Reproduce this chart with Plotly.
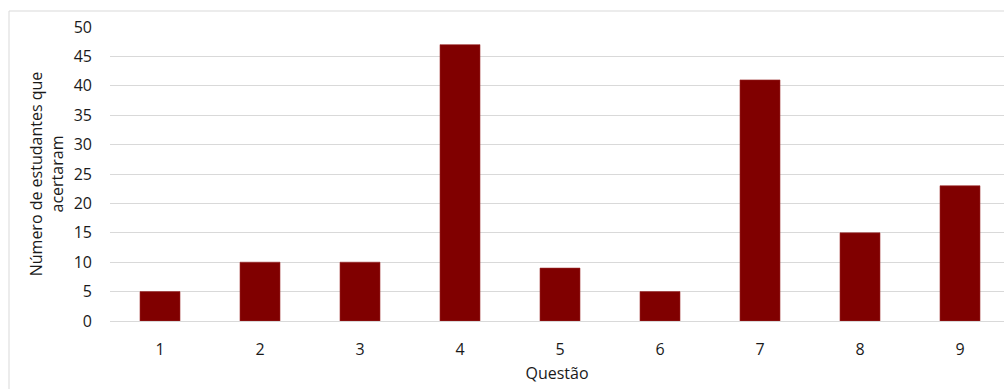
import plotly.graph_objects as go

questoes = ["1", "2", "3", "4", "5", "6", "7", "8", "9"]
acertos = [5, 10, 10, 47, 9, 5, 41, 15, 23]
y_ticks = list(range(0, 51, 5))

W, H = 1004, 389
ML, MR, MT, MB = 110, 0, 27, 68
plot_w = W - ML - MR
plot_h = H - MT - MB
FONT = "Open Sans, Liberation Sans, sans-serif"
TXT = "#1a1a1a"
FS = 16

fig = go.Figure(
    go.Bar(
        x=list(range(1, len(questoes) + 1)),
        y=acertos,
        marker=dict(color="#800000", line=dict(color="#9a2a2a", width=0.6)),
        width=0.4,
    )
)

# one category per 100 px, the last band runs past the right edge
x_lo = 0.5
x_hi = x_lo + plot_w / 100.0

# light frame around the chart (left and top edges are visible)
bx = (9 - ML) / plot_w
by = 1 + (MT - 11) / plot_h
frame = dict(color="#d9d9d9", width=1)
fig.add_shape(type="line", xref="paper", yref="paper", x0=bx, x1=1.05, y0=by, y1=by, line=frame)
fig.add_shape(type="line", xref="paper", yref="paper", x0=bx, x1=bx, y0=by, y1=-0.5, line=frame)

fig.update_layout(
    width=W,
    height=H,
    margin=dict(l=ML, r=MR, t=MT, b=MB),
    paper_bgcolor="white",
    plot_bgcolor="white",
    showlegend=False,
    font=dict(family=FONT, size=FS, color=TXT),
    xaxis=dict(
        range=[x_lo, x_hi],
        tickmode="array",
        tickvals=list(range(1, len(questoes) + 1)),
        ticktext=questoes,
        showgrid=False,
        zeroline=False,
        showline=False,
        ticks="",
        ticklen=0,
        ticklabelstandoff=17,
        tickfont=dict(size=FS, color=TXT),
        title=dict(text="Questão", font=dict(size=FS, color=TXT), standoff=8),
    ),
    yaxis=dict(
        range=[0, 50],
        tickvals=y_ticks,
        showgrid=True,
        gridcolor="#d9d9d9",
        gridwidth=1,
        zeroline=True,
        zerolinecolor="#d9d9d9",
        zerolinewidth=1,
        showline=False,
        ticks="",
        ticklabelstandoff=17,
        tickfont=dict(size=FS, color=TXT),
        title=dict(
            text="Número de estudantes que<br>acertaram",
            font=dict(size=FS, color=TXT),
            standoff=6,
        ),
    ),
)

fig.write_html("out.html")
